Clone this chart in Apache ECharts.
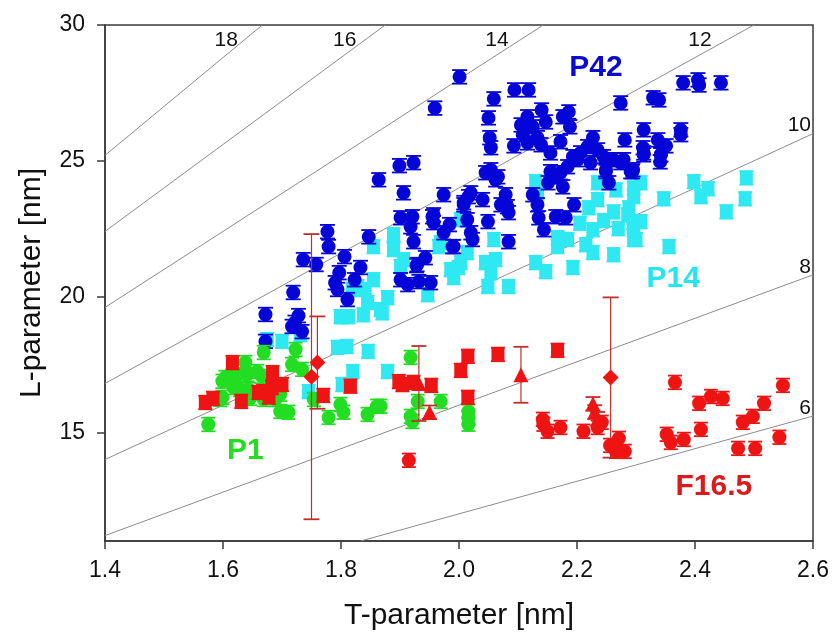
<!DOCTYPE html>
<html><head><meta charset="utf-8">
<script src="https://cdn.jsdelivr.net/npm/echarts/dist/echarts.min.js"></script>
<style>html,body{margin:0;padding:0;background:#fff}#c{width:832px;height:639px}</style>
</head><body><div id="c"></div>
<script>
// ---- tick labels ----
const xTicks = [1.4, 1.6, 1.8, 2.0, 2.2, 2.4, 2.6];
const yTicks = [15, 20, 25, 30];
// ---- constant-ratio guide lines L = k*T ----
const slopes = [18, 16, 14, 12, 10, 8, 6];
// ---- P42 (blue circles) [T, L] ----
const p42 = [[1.672,19.34],[1.672,18.35],[1.719,20.15],[1.717,18.9],[1.728,19.3],[1.734,18.71],[1.722,19.05],
[1.736,21.36],[1.758,21.18],[1.777,22.39],[1.779,21.84],[1.806,21.47],[1.847,22.2],[1.797,20.88],[1.833,21.07],[1.79,20.51],[1.823,20.62],[1.794,20.26],[1.811,19.89],
[1.864,24.3],[1.899,24.82],[1.923,24.93],[1.906,23.82],[1.901,22.9],[1.921,22.94],[1.918,22.57],[1.923,22.02],[1.957,23.01],[1.957,22.72],[1.984,22.65],[1.974,22.35],[1.991,21.84],[2.008,23.38],[1.943,21.43],[1.928,21.14],[1.901,20.62],[1.913,20.44],[1.932,20.55],[1.952,20.51],
[1.959,26.94],[2.001,28.09],[1.974,23.75],[2.008,23.46],
[2.059,27.28],[2.094,27.61],[2.118,27.61],[2.05,26.58],[2.052,25.85],[2.054,25.48],[2.14,26.87],[2.147,26.43],[2.105,26.32],[2.116,26.62],[2.125,26.25],[2.108,25.96],[2.133,25.85],[2.093,25.55],[2.116,25.66],[2.139,25.59],[2.155,25.29],[2.176,26.62],[2.186,26.8],[2.188,26.25],[2.172,25.7],[2.274,27.13],[2.329,27.32],[2.339,27.24],[2.38,27.87],[2.405,27.98],[2.407,27.79],[2.444,27.87],
[2.281,25.77],[2.313,26.14],[2.337,25.77],[2.351,25.55],[2.376,26.14],[2.376,25.96],[2.312,25.48],[2.313,25.22],[2.342,25.22],[2.341,24.96],
[2.227,25.85],[2.218,25.52],[2.235,25.4],[2.206,25.29],[2.201,25.04],[2.245,25.15],[2.262,25.04],[2.279,25.04],[2.295,24.67],[2.249,24.67],[2.193,25.15],[2.184,24.78],[2.155,24.6],[2.172,24.56],[2.054,24.67],[2.045,24.56],[2.066,24.41],
[2.062,24.3],[2.016,23.68],[2.04,23.57],[2.071,23.38],[2.079,23.75],[2.084,23.09],[2.049,22.76],[2.014,22.83],[2.02,22.35],[2.023,22.1],[2.084,22.02],[2.133,23.38],[2.125,23.75],[2.151,24.19],[2.164,24.41],[2.176,24.04],[2.195,23.38],[2.135,22.9],[2.144,22.46],[2.164,22.94],[2.181,22.9],[2.223,24.93],[2.249,24.6],[2.254,24.19],[2.291,24.6],[2.274,24.93],
[2.313,25.29],[2.342,25.22],[2.294,24.6],[1.989,21.84],[1.929,21.18],[2.02,23.82],[2.082,23.31],[1.955,22.94]];
// ---- P14 (cyan squares) ----
const p14 = [[1.700,18.35],[1.731,18.6],[1.802,19.26],[1.813,19.26],[1.838,19.33],[1.870,19.4],[1.794,18.13],[1.81,18.16],[1.846,17.98],[1.82,17.24],[1.879,17.24],[1.802,16.76],[1.745,16.5],[1.675,18.42],
[1.889,22.28],[1.889,21.73],[1.855,21.84],[1.906,21.36],[1.901,21.1],[1.855,20.62],[1.841,20.26],[1.819,20.26],[1.879,19.96],[1.845,19.78],[1.867,19.52],[1.799,19.26],[1.947,20.07],[1.986,20.99],[2.003,21.25],[1.991,20.7],[1.966,21.84],[2.003,22.83],[1.969,21.99],[1.828,20.37],
[2.13,24.23],[2.133,23.82],[2.059,22.1],[2.062,21.36],[2.045,21.25],[2.014,21.62],[1.999,21.07],[2.054,20.88],[2.049,20.37],[2.084,20.37],[2.13,21.25],[2.147,20.92],[2.167,21.84],[2.167,22.17],[2.193,21.07],[2.184,22.1],[2.215,21.91],[2.227,22.46],[2.227,21.62],[2.262,21.54],[2.22,23.27],[2.235,23.57],[2.262,23.12],[2.286,23.01],[2.296,22.46],[2.296,22.1],[2.266,23.93],[2.296,24.0],[2.235,24.19],
[2.308,24.19],[2.296,23.68],[2.288,23.27],[2.295,22.72],[2.308,22.76],[2.3,22.1],[2.347,23.6],[2.356,21.84],[2.398,24.23],[2.41,23.68],[2.422,23.97],[2.453,23.12],[2.487,24.37],[2.485,23.6],
[2.245,22.8],[2.205,22.7],[2.27,22.5]];
// ---- P1 (green circles) ----
const p1 = [[1.575,15.29],[1.595,16.21],[1.599,16.88],[1.617,16.98],[1.638,17.57],[1.641,17.13],[1.618,16.65],[1.643,16.58],[1.669,17.94],[1.666,17.06],[1.669,16.21],[1.697,15.77],[1.711,15.74],[1.717,17.5],[1.723,18.05],[1.697,16.40],[1.734,17.32],[1.754,16.21],[1.779,15.55],[1.799,16.03],[1.804,15.74],[1.845,15.66],[1.861,15.96],[1.918,17.76],[1.921,15.4],[1.604,17.02],[1.624,17.13],[1.629,16.58],[1.646,16.25],[1.599,16.29],[1.658,17.24],[1.689,16.21],[1.93,16.14],[1.969,16.14],[1.918,15.59],[2.016,15.77],[2.016,15.55],[2.016,15.3],[1.867,15.96]];
// ---- F16.5 (red, several symbols) ----
const f16Squares = [[1.570,16.1],[1.583,16.25],[1.616,17.57],[1.631,16.14],[1.668,16.5],[1.684,17.2],[1.70,16.76],[1.678,16.3],[1.66,16.47],[1.683,16.65],[1.77,16.36],[1.816,16.7],[1.898,16.87],[1.904,16.76],[1.923,16.84],[1.953,16.73],[2.015,17.8],[2.003,17.28],[2.015,16.29],[2.066,17.87],[2.167,18.02]];
const f16Circles = [[1.915,13.97],[2.143,15.3],[2.15,15.04],[2.142,15.48],[2.172,15.18],[2.211,15.04],[2.235,15.18],[2.242,15.37],[2.256,14.52],[2.271,14.78],[2.281,14.3],[2.266,14.3],[2.366,16.84],[2.352,14.93],[2.359,14.63],[2.381,14.74],[2.407,16.07],[2.41,15.11],[2.427,16.32],[2.447,16.25],[2.473,14.41],[2.502,14.41],[2.481,15.37],[2.498,15.59],[2.517,16.07],[2.549,16.73],[2.543,14.82]];
const f16Triangles = [[1.95,15.74],[1.932,16.8],[2.105,17.12],[2.227,16.05],[2.23,15.75],[2.235,15.5]];
const f16TriangleErr = [0.25, 1.38, 1.03, 0.25, 0.25, 0.25];
const f16Diamonds = [[1.75,17.05],[1.76,17.57],[2.257,17.02]];
const f16DiamondErr = [5.25, 1.7, 2.95];
const defaultErr = 0.25;

const BLUE='#0505d8', CYAN='#2ee8f2', GREEN='#22dd22', RED='#ee1414', DARKRED='#c0302a';

function errRender(color, capW, lw){
  return function(params, api){
    const x=api.value(0), y=api.value(1), e=api.value(2);
    const p1=api.coord([x,y+e]), p2=api.coord([x,y-e]);
    const hw=capW/2;
    return {type:'group', children:[
      {type:'line', shape:{x1:p1[0],y1:p1[1],x2:p2[0],y2:p2[1]}, style:{stroke:color,lineWidth:lw}},
      {type:'line', shape:{x1:p1[0]-hw,y1:p1[1],x2:p1[0]+hw,y2:p1[1]}, style:{stroke:color,lineWidth:lw+0.6}},
      {type:'line', shape:{x1:p2[0]-hw,y1:p2[1],x2:p2[0]+hw,y2:p2[1]}, style:{stroke:color,lineWidth:lw+0.6}}
    ]};
  };
}
function withErr(arr, errs){ return arr.map((d,i)=>[d[0], d[1], errs ? errs[i] : defaultErr]); }
function errSeries(arr, errs, color, capW, lw, z){
  return {type:'custom', renderItem:errRender(color,capW,lw), data:withErr(arr,errs), encode:{x:0,y:1}, z:z, silent:true, clip:true};
}
function pts(arr, symbol, size, color, z){
  return {type:'scatter', data:arr, symbol:symbol, symbolSize:size, itemStyle:{color:color, opacity:1}, z:z, silent:true};
}

const X0=1.4, X1=2.6, Y0=11, Y1=30;
const guideSeries = slopes.map(k=>{
  const t0 = Math.max(X0, Y0/k), t1 = Math.min(X1, Y1/k);
  return {type:'line', data:[[t0,k*t0],[t1,k*t1]], symbol:'none', lineStyle:{color:'#8c8c8c', width:1}, z:1, silent:true};
});
const topLabels = slopes.filter(k=>Y1/k < X1).map(k=>[28.9/k, 29.45, k]);
const sideLabels = slopes.filter(k=>Y1/k >= X1).map(k=>[X1, X1*k+0.3, k]);
const txtFont = '"Liberation Sans", Arial, sans-serif';
const plainLbl = {textBorderWidth:0, textBorderColor:'transparent', textShadowBlur:0, opacity:1};

const option = {
  animation:false,
  grid:{left:105, right:18, top:25, bottom:98, show:true, borderColor:'#3a3a3a', borderWidth:1.5},
  xAxis:{type:'value', min:X0, max:X1,
    name:'T-parameter [nm]', nameLocation:'middle', nameGap:60,
    nameTextStyle:{fontSize:30, color:'#111', fontFamily:txtFont},
    axisLine:{show:true, lineStyle:{color:'#3a3a3a', width:1.5}},
    axisTick:{show:true, inside:false, length:8, customValues:xTicks, lineStyle:{color:'#3a3a3a', width:1.5}},
    axisLabel:{customValues:xTicks, formatter:v=>Number(v).toFixed(1), fontSize:23, color:'#111', margin:18, fontFamily:txtFont},
    splitLine:{show:false}},
  yAxis:{type:'value', min:Y0, max:Y1,
    name:'L-parameter [nm]', nameLocation:'middle', nameGap:58,
    nameTextStyle:{fontSize:30, color:'#111', fontFamily:txtFont},
    axisLine:{show:true, lineStyle:{color:'#3a3a3a', width:1.5}},
    axisTick:{show:true, inside:false, length:8, customValues:yTicks, lineStyle:{color:'#3a3a3a', width:1.5}},
    axisLabel:{customValues:yTicks, fontSize:23, color:'#111', margin:20, fontFamily:txtFont},
    splitLine:{show:false}},
  series:[
    ...guideSeries,
    {type:'scatter', data:topLabels, symbolSize:1, itemStyle:{color:'rgba(0,0,0,0)'}, z:2, silent:true,
     label:Object.assign({show:true, position:'inside', formatter:p=>String(p.value[2]), fontSize:21, color:'#111', fontFamily:txtFont}, plainLbl)},
    {type:'scatter', data:sideLabels, symbolSize:1, itemStyle:{color:'rgba(0,0,0,0)'}, z:2, silent:true,
     label:Object.assign({show:true, position:'inside', align:'right', offset:[-2,0], formatter:p=>String(p.value[2]), fontSize:21, color:'#111', fontFamily:txtFont}, plainLbl)},
    errSeries(p14, null, CYAN, 14, 1.2, 3),
    pts(p14, 'rect', 13, CYAN, 4),
    errSeries(p42, null, BLUE, 15, 1.2, 5),
    pts(p42, 'circle', 14, BLUE, 6),
    errSeries(p1, null, GREEN, 14, 1.2, 7),
    pts(p1, 'circle', 14, GREEN, 8),
    errSeries(f16Squares, null, RED, 14, 1.2, 9),
    pts(f16Squares, 'rect', 13, RED, 10),
    errSeries(f16Circles, null, RED, 14, 1.2, 9),
    pts(f16Circles, 'circle', 14, RED, 10),
    errSeries(f16Triangles, f16TriangleErr, DARKRED, 15, 1.2, 9),
    pts(f16Triangles, 'triangle', 15, RED, 10),
    errSeries(f16Diamonds, f16DiamondErr, DARKRED, 16, 1.2, 9),
    pts(f16Diamonds, 'diamond', 16, RED, 10),
    {type:'scatter', symbolSize:1, itemStyle:{color:'rgba(0,0,0,0)'}, z:11, silent:true,
     label:Object.assign({show:true, position:'inside', fontSize:30, fontWeight:'bold', fontFamily:txtFont}, plainLbl),
     data:[
       {value:[2.232,28.42], label:{formatter:'P42', color:'#0a0ad0'}},
       {value:[2.363,20.66], label:{formatter:'P14', color:'#22e6f0'}},
       {value:[1.638,14.34], label:{formatter:'P1', color:'#22dd22'}},
       {value:[2.432,13.0], label:{formatter:'F16.5', color:'#dd1a1a'}}
     ]}
  ]
};
const chart = echarts.init(document.getElementById('c'), null, {renderer:'canvas'});
chart.setOption(option);
</script></body></html>
